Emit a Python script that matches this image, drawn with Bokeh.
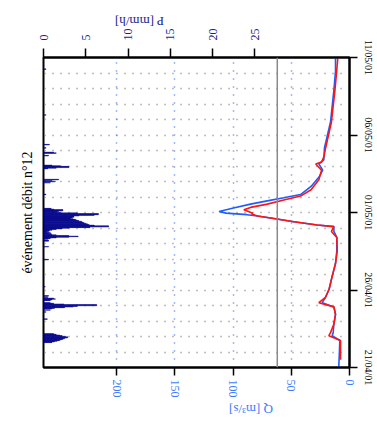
import math
from bokeh.plotting import figure
from bokeh.models import Range1d, LinearAxis, FixedTicker, Span, Axis
from bokeh.embed import file_html
from bokeh.resources import INLINE

# ---------------- data ----------------
date_ticks = [0, 5, 10, 15, 20]          # days since 21/04/01
date_labels = ["21/04/01", "26/04/01", "01/05/01", "06/05/01", "11/05/01"]
q_ticks = [0, 50, 100, 150, 200]
p_ticks = [0, 5, 10, 15, 20, 25]
day_grid = list(range(1, 20))
q_grid = [50, 100, 150, 200]
q_threshold = 62

# observed discharge (blue)
obs_day = [0.0, 1.74, 2.05, 2.25, 2.8, 3.42, 3.91, 4.18, 4.53, 5.05, 5.88, 6.71, 7.53,
           8.39, 8.78, 9.09, 9.19, 9.4, 9.61, 9.77, 9.86, 9.96, 10.06, 10.29, 10.54,
           10.75, 10.95, 11.16, 11.68, 12.3, 12.73, 13.13, 13.4, 14.16, 15.84, 17.89,
           19.13, 20.0]
obs_q = [9.2, 8.3, 14.9, 14.0, 13.4, 12.0, 13.4, 23.4, 20.6, 17.5, 14.9, 12.0, 10.9,
         10.9, 13.4, 13.4, 27.7, 47.8, 65.0, 79.0, 88.0, 106.0, 112.0, 99.6, 85.0,
         70.6, 56.4, 42.0, 33.0, 26.0, 23.0, 26.3, 22.0, 21.5, 16.3, 13.4,
         12.0, 12.0]

# simulated discharge (red)
sim_day = [0.5, 1.74, 2.05, 2.25, 2.8, 3.42, 3.91, 4.18, 4.53, 5.05, 5.88, 6.71, 7.53,
           8.39, 8.78, 9.09, 9.19, 9.4, 9.61, 9.77, 9.9, 9.95, 10.17, 10.33, 10.54,
           10.81, 11.06, 11.47, 12.11, 12.73, 13.13, 13.25, 13.6, 14.16, 15.84, 17.89,
           19.13, 20.0]
sim_q = [7.7, 7.7, 17.7, 16.3, 13.4, 12.0, 13.4, 26.3, 20.6, 17.5, 14.9, 12.0, 10.5,
         10.9, 15.5, 13.4, 27.7, 47.8, 65.0, 79.0, 84.0, 83.0, 90.7, 85.0, 70.6,
         56.4, 42.0, 33.0, 26.3, 24.0, 29.0, 24.0, 22.0, 20.5, 15.5, 12.5,
         11.0, 10.0]

# hourly rainfall (hours since 21/04/01 00:00, mm/h)
rain_hour = [39, 40, 41, 42, 43, 44, 45, 46, 47, 48, 49, 50, 51, 52,
             75,
             86, 89, 91, 92, 93, 94, 95, 96, 97, 98, 99, 100, 104, 105, 106, 107, 109, 111, 125,
             167, 187, 196, 197, 199, 200, 201, 202, 203, 204, 205, 206, 207, 208, 209, 210,
             211, 212, 213, 214, 215, 216, 217, 218, 219, 220, 221, 222, 223, 224, 225, 226,
             227, 228, 229, 230, 231, 232, 233, 234, 235, 236, 237, 238, 239, 240, 241, 242,
             243, 244, 245, 246,
             268, 286, 288, 289, 291, 308, 309, 310, 311, 312, 313, 328, 332, 333, 340, 345,
             391, 462]
rain_mm = [1.0, 1.3, 1.6, 1.9, 2.1, 2.3, 2.5, 2.8, 2.9, 2.6, 2.2, 1.9, 1.5, 1.2,
           0.45,
           0.3, 0.8, 1.0, 1.3, 2.5, 3.5, 4.0, 6.3, 6.3, 2.4, 1.2, 0.8, 0.8, 1.0, 1.4, 1.2, 0.5, 0.6, 0.2,
           0.6, 0.6, 0.6, 0.6, 0.5, 0.8, 1.5, 3.0, 4.1, 3.0, 1.5, 1.0, 0.9, 0.6, 0.8, 0.4,
           0.6, 0.7, 1.0, 1.5, 2.2, 3.0, 5.5, 7.7, 7.7, 6.0, 5.4, 5.2, 5.0, 4.8, 4.6, 4.5,
           4.2, 4.0, 3.8, 3.5, 3.2, 3.4, 3.6, 3.6, 4.2, 6.0, 6.5, 6.5, 4.0, 2.0, 1.6, 1.8,
           2.3, 2.3, 1.2, 0.9,
           0.3, 0.8, 1.4, 1.0, 1.8, 0.5, 1.5, 3.0, 3.0, 2.0, 1.0, 0.6, 1.5, 1.2, 0.3, 0.7,
           0.3, 0.3]

rain_day = [h / 24.0 for h in rain_hour]

q_title = "Q [m³/s]"
p_title = "P [mm/h]"

# ---------------- style ----------------
SERIF = "Liberation Serif"
Q_BLUE = "#3d7bff"
P_NAVY = "#1c1c8f"
OBS_BLUE = "#1f5cff"
SIM_RED = "#ff1414"
NBSP = "\u00a0"
HAS_ORIENT = "axis_label_orientation" in Axis.properties()

p = figure(width=377, height=427, output_backend="svg", toolbar_location=None,
           x_range=Range1d(262.7, 0), y_range=Range1d(0, 20),
           y_axis_location="right", title_location="left",
           min_border_left=43, min_border_right=28,
           min_border_top=57, min_border_bottom=49)
p.extra_x_ranges = {"P": Range1d(0, 36.2)}
p.background_fill_color = "white"
p.border_fill_color = "white"
p.outline_line_color = "black"
p.outline_line_width = 2

p.title.text = "événement débit n°12"
p.title.text_font = SERIF
p.title.text_font_style = "normal"
p.title.text_font_size = "14px"
p.title.align = "center"
p.title.text_color = "black"
p.title.standoff = 18

# grids
p.xgrid.ticker = FixedTicker(ticks=q_grid)
p.xgrid.grid_line_color = Q_BLUE
p.xgrid.grid_line_dash = "1 7"
p.xgrid.grid_line_width = 1.5
p.ygrid.ticker = FixedTicker(ticks=day_grid)
p.ygrid.grid_line_color = "#7a7a7a"
p.ygrid.grid_line_dash = "1 7"
p.ygrid.grid_line_width = 1.5

# Q axis (bottom)
xa = p.xaxis[0]
xa.ticker = FixedTicker(ticks=q_ticks)
xa.major_label_orientation = "vertical"
xa.major_label_text_color = Q_BLUE
xa.major_label_text_font = SERIF
xa.major_label_text_font_size = "12px"
xa.major_tick_out = 8
xa.major_tick_in = 0
xa.minor_tick_out = 0
xa.minor_tick_in = 0
xa.axis_line_width = 2
xa.major_tick_line_width = 1.5
xa.major_label_standoff = 4
xa.axis_label_text_font = SERIF
xa.axis_label_text_font_style = "normal"
xa.axis_label_text_font_size = "13px"
xa.axis_label_text_color = Q_BLUE
xa.axis_label_standoff = 9

# date axis (right)
ya = p.yaxis[0]
ya.ticker = FixedTicker(ticks=date_ticks)
ya.major_label_overrides = {t: lab for t, lab in zip(date_ticks, date_labels)}
ya.major_label_orientation = "vertical"
ya.major_label_text_font = SERIF
ya.major_label_text_font_size = "10px"
ya.major_label_text_color = "black"
ya.major_tick_out = 8
ya.major_tick_in = 0
ya.minor_tick_out = 0
ya.minor_tick_in = 0
ya.axis_line_width = 2
ya.major_tick_line_width = 1.5
ya.major_label_standoff = 5

# P axis (top)
pa = LinearAxis(x_range_name="P", ticker=FixedTicker(ticks=p_ticks))
pa.major_label_orientation = "vertical"
pa.major_label_text_color = P_NAVY
pa.major_label_text_font = SERIF
pa.major_label_text_font_size = "12px"
pa.major_tick_out = 9
pa.major_tick_in = 0
pa.minor_tick_out = 0
pa.minor_tick_in = 0
pa.axis_line_width = 2
pa.major_tick_line_width = 1.5
pa.major_label_standoff = 8
pa.axis_label_text_font = SERIF
pa.axis_label_text_font_style = "normal"
pa.axis_label_text_font_size = "13px"
pa.axis_label_text_color = P_NAVY
pa.axis_label_standoff = 4
p.add_layout(pa, "above")

# axis titles: upside down, shifted along the axis as in the original
if HAS_ORIENT:
    xa.axis_label = q_title + NBSP * 10
    xa.axis_label_orientation = math.pi
    pa.axis_label = NBSP * 10 + p_title
    pa.axis_label_orientation = math.pi
else:
    xa.axis_label = q_title
    pa.axis_label = p_title

# threshold line
p.add_layout(Span(location=q_threshold, dimension="height",
                  line_color="#8a8a8a", line_width=1.5))

# rainfall bars
p.hbar(y=rain_day, height=1 / 24.0, left=0, right=rain_mm, x_range_name="P",
       fill_color="#00008b", line_color="#00008b", line_width=0.4)

# discharge lines
p.line(obs_q, obs_day, line_color=OBS_BLUE, line_width=1.6)
p.line(sim_q, sim_day, line_color=SIM_RED, line_width=1.6)

open("out.html", "w").write(file_html(p, INLINE))
